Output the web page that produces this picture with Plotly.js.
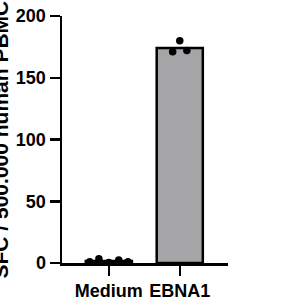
<!DOCTYPE html>
<html>
<head>
<meta charset="utf-8">
<script src="https://cdn.plot.ly/plotly-3.0.1.min.js"></script>
<style>html,body{margin:0;padding:0;background:#fff;}#chart{width:300px;height:300px;}</style>
</head>
<body>
<div id="chart"></div>
<script>
var categories = ["Medium", "EBNA1"];
var barValues = [1.7, 174];
var mediumPoints = [1, 3.5, 0.5, 2.5, 1];
var ebna1Points = [171, 180, 172];
var yTickVals = [0, 50, 100, 150, 200];
var yTitle = "SFC / 500.000 human PBMC";

var mediumOffsets = [-0.27, -0.14, 0, 0.14, 0.27];
var ebnaOffsets = [-0.1, 0, 0.1];

var fam = "Liberation Sans, Arial, sans-serif";

var bar = {
  type: "bar",
  x: categories.map(function(c, i){ return i; }),
  y: barValues,
  width: 0.65,
  marker: {color: "#a5a5a7", line: {color: "#000", width: 2.5}},
  hoverinfo: "none"
};
var pts = {
  type: "scatter",
  mode: "markers",
  x: mediumOffsets.map(function(o){ return 0 + o; }).concat(ebnaOffsets.map(function(o){ return 1 + o; })),
  y: mediumPoints.concat(ebna1Points),
  marker: {color: "#000", size: 7.5},
  cliponaxis: false,
  hoverinfo: "none"
};

var tf = {family: fam, size: 18, color: "#000", weight: "bold"};
var layout = {
  width: 300, height: 300,
  margin: {l: 62, r: 72, t: 16, b: 37},
  paper_bgcolor: "#fff", plot_bgcolor: "#fff",
  showlegend: false,
  font: {family: fam, size: 18, color: "#000"},
  xaxis: {
    range: [-0.66, 1.68],
    tickvals: [0, 1], ticktext: categories,
    showline: true, linecolor: "#000", linewidth: 2.5,
    ticks: "outside", ticklen: 10, tickwidth: 2.5, tickcolor: "#000",
    showgrid: false, zeroline: false,
    tickfont: tf
  },
  yaxis: {
    range: [0, 200],
    tickvals: yTickVals,
    showline: true, linecolor: "#000", linewidth: 2.5,
    ticks: "outside", ticklen: 10, tickwidth: 2.5, tickcolor: "#000",
    showgrid: false, zeroline: false,
    tickfont: tf
  },
  annotations: [{
    text: yTitle, textangle: -90,
    xref: "paper", yref: "paper", x: 0, y: 0.5,
    xanchor: "center", yanchor: "middle", xshift: -62,
    showarrow: false,
    font: {family: fam, size: 21, color: "#000", weight: "bold"}
  }]
};
Plotly.newPlot("chart", [bar, pts], layout, {displayModeBar: false, staticPlot: true});
</script>
</body>
</html>
